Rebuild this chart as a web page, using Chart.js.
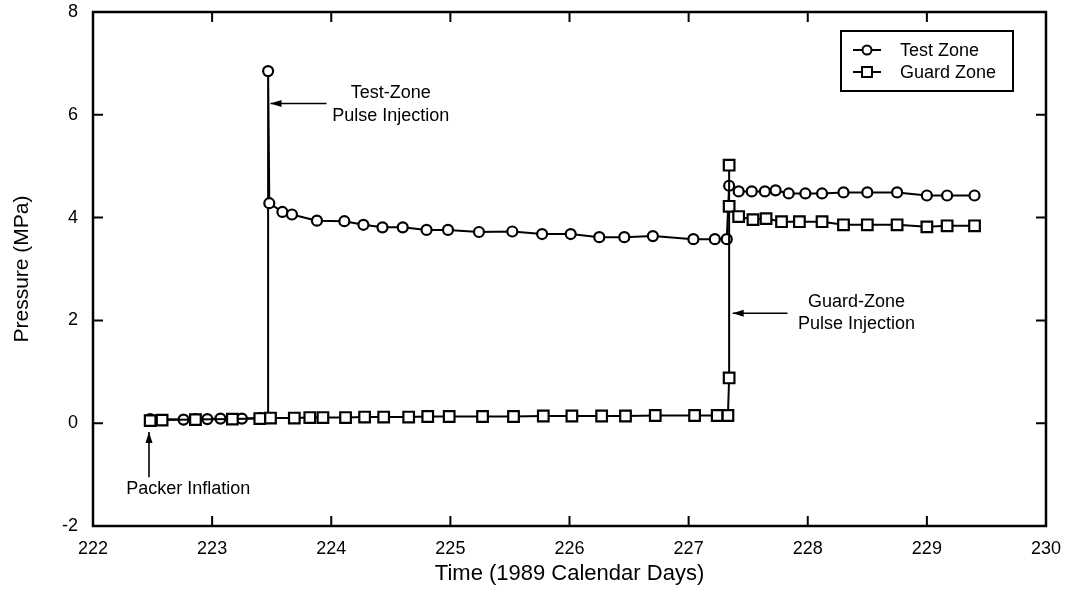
<!DOCTYPE html>
<html>
<head>
<meta charset="utf-8">
<script src="https://cdn.jsdelivr.net/npm/chart.js@4/dist/chart.umd.min.js"></script>
<style>
html,body{margin:0;padding:0;background:#fff;}
#wrap{width:1070px;height:611px;}
</style>
</head>
<body>
<div id="wrap"><canvas id="c" width="1070" height="611"></canvas></div>
<script>
// ---- data ----
const testDays = [222.48,222.76,222.86,222.96,223.07,223.25,223.40,223.47,223.47,223.48,
  223.59,223.67,223.88,224.11,224.27,224.43,224.60,224.80,224.98,225.24,225.52,225.77,
  226.01,226.25,226.46,226.70,227.04,227.22,227.32,227.34,227.42,227.53,227.64,227.73,
  227.84,227.98,228.12,228.30,228.50,228.75,229.00,229.17,229.40];
const testPressure = [0.08,0.07,0.08,0.08,0.09,0.09,0.10,0.10,6.85,4.28,
  4.11,4.06,3.94,3.93,3.86,3.81,3.81,3.76,3.76,3.72,3.73,3.68,
  3.68,3.62,3.62,3.64,3.58,3.58,3.58,4.62,4.51,4.51,4.51,4.53,
  4.47,4.47,4.47,4.49,4.49,4.49,4.43,4.43,4.43];
const guardDays = [222.48,222.58,222.86,223.17,223.40,223.49,223.69,223.82,223.93,224.12,
  224.28,224.44,224.65,224.81,224.99,225.27,225.53,225.78,226.02,226.27,226.47,226.72,
  227.05,227.24,227.33,227.34,227.34,227.34,227.42,227.54,227.65,227.78,227.93,228.12,
  228.30,228.50,228.75,229.00,229.17,229.40];
const guardPressure = [0.05,0.06,0.07,0.08,0.09,0.10,0.10,0.11,0.11,0.11,
  0.12,0.12,0.12,0.13,0.13,0.13,0.13,0.14,0.14,0.14,0.14,0.15,
  0.15,0.15,0.15,0.88,5.02,4.22,4.02,3.96,3.98,3.92,3.92,3.92,
  3.86,3.86,3.86,3.82,3.84,3.84];
const xTicks = [222,223,224,225,226,227,228,229,230];
const yTicks = [-2,0,2,4,6,8];
const seriesNames = ['Test Zone','Guard Zone'];
const xTitle = 'Time (1989 Calendar Days)';
const yTitle = 'Pressure (MPa)';
const notes = [
  {lines:['Test-Zone','Pulse Injection'], x:224.50, y:[6.42,5.98], arrow:{from:[223.96,6.22],to:[223.49,6.22]}},
  {lines:['Guard-Zone','Pulse Injection'], x:228.41, y:[2.36,1.92], arrow:{from:[227.83,2.14],to:[227.37,2.14]}},
  {lines:['Packer Inflation'], x:222.80, y:[-1.28], arrow:{from:[222.47,-1.05],to:[222.47,-0.17]}}
];

const FONT = '"Liberation Sans", Arial, Helvetica, sans-serif';
const pts = (xs, ys) => xs.map((x, i) => ({x: x, y: ys[i]}));

function arrow(ctx, x1, y1, x2, y2) {
  ctx.beginPath(); ctx.moveTo(x1, y1); ctx.lineTo(x2, y2); ctx.stroke();
  const a = Math.atan2(y2 - y1, x2 - x1), L = 11, W = 3.5;
  ctx.beginPath();
  ctx.moveTo(x2, y2);
  ctx.lineTo(x2 - L*Math.cos(a) + W*Math.sin(a), y2 - L*Math.sin(a) - W*Math.cos(a));
  ctx.lineTo(x2 - L*Math.cos(a) - W*Math.sin(a), y2 - L*Math.sin(a) + W*Math.cos(a));
  ctx.closePath(); ctx.fill();
}

const framePlugin = {
  id: 'frame',
  beforeDatasetsDraw(chart) {
    const {ctx, chartArea: a, scales: {x, y}} = chart;
    ctx.save();
    ctx.strokeStyle = '#000'; ctx.lineWidth = 2.5;
    ctx.strokeRect(a.left, a.top, a.right - a.left, a.bottom - a.top);
    ctx.lineWidth = 2;
    const T = 10;
    ctx.beginPath();
    xTicks.forEach(v => {
      const px = x.getPixelForValue(v);
      ctx.moveTo(px, a.bottom); ctx.lineTo(px, a.bottom - T);
      ctx.moveTo(px, a.top); ctx.lineTo(px, a.top + T);
    });
    yTicks.forEach(v => {
      const py = y.getPixelForValue(v);
      ctx.moveTo(a.left, py); ctx.lineTo(a.left + T, py);
      ctx.moveTo(a.right, py); ctx.lineTo(a.right - T, py);
    });
    ctx.stroke();
    ctx.restore();
  },
  afterDraw(chart) {
    const {ctx, chartArea: a, scales: {x, y}} = chart;
    ctx.save();
    ctx.fillStyle = '#000'; ctx.strokeStyle = '#000'; ctx.lineWidth = 1.6;
    ctx.font = '18px ' + FONT; ctx.textAlign = 'center'; ctx.textBaseline = 'middle';
    notes.forEach(n => {
      n.lines.forEach((t, i) => ctx.fillText(t, x.getPixelForValue(n.x), y.getPixelForValue(n.y[i])));
      arrow(ctx, x.getPixelForValue(n.arrow.from[0]), y.getPixelForValue(n.arrow.from[1]),
                 x.getPixelForValue(n.arrow.to[0]), y.getPixelForValue(n.arrow.to[1]));
    });
    // legend
    const bx = a.right - 205, by = a.top + 19, bw = 172, bh = 60;
    ctx.fillStyle = '#fff'; ctx.fillRect(bx, by, bw, bh);
    ctx.lineWidth = 2; ctx.strokeRect(bx, by, bw, bh);
    ctx.font = '18px ' + FONT; ctx.textAlign = 'left';
    chart.data.datasets.forEach((ds, i) => {
      const ry = by + 19 + i * 22;
      ctx.strokeStyle = '#000'; ctx.lineWidth = 2;
      ctx.beginPath(); ctx.moveTo(bx + 12, ry); ctx.lineTo(bx + 40, ry); ctx.stroke();
      const cx = bx + 26;
      ctx.fillStyle = '#fff'; ctx.lineWidth = 2;
      ctx.beginPath();
      if (ds.pointStyle === 'circle') ctx.arc(cx, ry, 4.5, 0, Math.PI*2);
      else ctx.rect(cx - 5, ry - 5, 10, 10);
      ctx.fill(); ctx.stroke();
      ctx.fillStyle = '#000';
      ctx.fillText(ds.label, bx + 59, ry + 1);
    });
    ctx.restore();
  }
};

const noPad = s => { s.paddingTop = 0; s.paddingBottom = 0; s.paddingLeft = 0; s.paddingRight = 0; };

new Chart(document.getElementById('c'), {
  type: 'line',
  data: {
    datasets: [
      {label: seriesNames[0], data: pts(testDays, testPressure), pointStyle: 'circle',
       pointRadius: 5, pointBorderWidth: 2.2, pointBackgroundColor: '#fff', pointBorderColor: '#000',
       borderColor: '#000', borderWidth: 2, tension: 0, order: 2},
      {label: seriesNames[1], data: pts(guardDays, guardPressure), pointStyle: 'rect',
       pointRadius: 7.5, pointBorderWidth: 2.2, pointBackgroundColor: '#fff', pointBorderColor: '#000',
       borderColor: '#000', borderWidth: 2, tension: 0, order: 1}
    ]
  },
  options: {
    responsive: false, animation: false, devicePixelRatio: 1,
    layout: {padding: {top: 12, right: 24, left: 0, bottom: 0}},
    plugins: {legend: {display: false}, tooltip: {enabled: false}},
    scales: {
      x: {
        type: 'linear', min: 222, max: 230,
        afterBuildTicks: s => { s.ticks = xTicks.map(v => ({value: v})); },
        afterFit: s => { s.height = 85; noPad(s); },
        grid: {display: false, drawTicks: false}, border: {display: false},
        ticks: {color: '#000', font: {family: FONT, size: 18}, padding: 12, maxRotation: 0, autoSkip: false},
        title: {display: true, text: xTitle, color: '#000', font: {family: FONT, size: 22}, padding: {top: 0, bottom: 24}}
      },
      y: {
        type: 'linear', min: -2, max: 8,
        afterBuildTicks: s => { s.ticks = yTicks.map(v => ({value: v})); },
        afterFit: s => { s.width = 93; noPad(s); },
        grid: {display: false, drawTicks: false}, border: {display: false},
        ticks: {color: '#000', font: {family: FONT, size: 18}, padding: 15},
        title: {display: true, text: yTitle, color: '#000', font: {family: FONT, size: 21}, padding: {top: 10, bottom: 0}}
      }
    }
  },
  plugins: [framePlugin]
});
</script>
</body>
</html>
